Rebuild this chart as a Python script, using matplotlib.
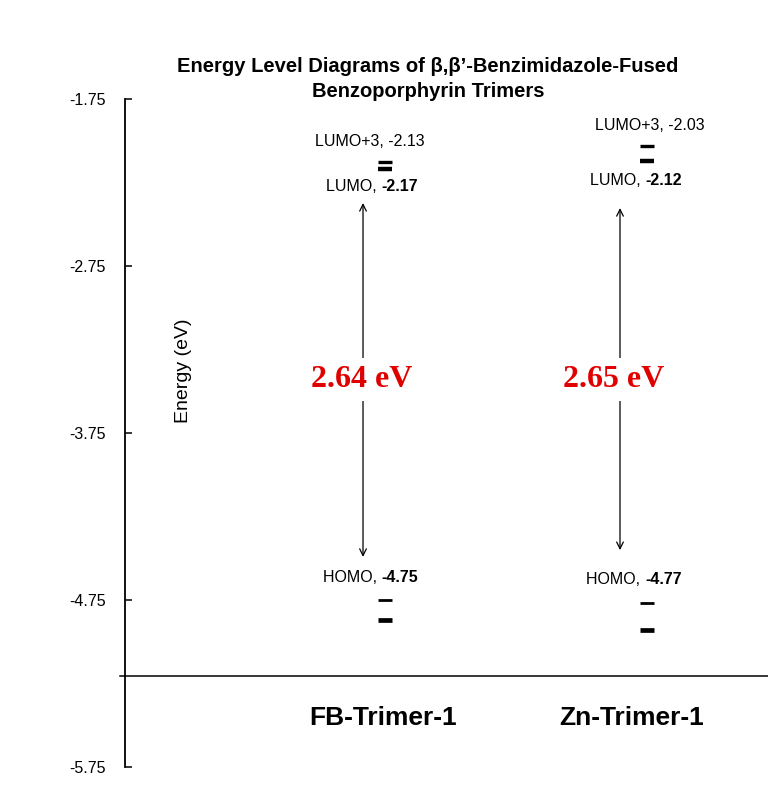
import matplotlib.pyplot as plt

plt.rcParams['font.family'] = ['Liberation Sans', 'DejaVu Sans']

# data
trimers = ['FB-Trimer-1', 'Zn-Trimer-1']
lumo3 = [-2.13, -2.03]
lumo = [-2.17, -2.12]
homo = [-4.75, -4.77]
homo1 = [-4.87, -4.93]   # unlabelled lower level
gaps = ['2.64 eV', '2.65 eV']

xs = [1, 2]

fig = plt.figure(figsize=(7.68, 7.89), dpi=100)
ax = fig.add_axes([0.1628, 0.0279, 0.8372, 0.8466])
ax.set_xlim(0.0075, 2.462)
ax.set_ylim(-5.75, -1.75)

# energy level bars
half = 0.027
for i, x in enumerate(xs):
    ax.hlines(lumo3[i], x - half, x + half, color='black', lw=2.4)
    ax.hlines(lumo[i], x - half, x + half, color='black', lw=3.2)
    ax.hlines(homo[i], x - half, x + half, color='black', lw=2.0)
    ax.hlines(homo1[i], x - half, x + half, color='black', lw=3.4)

# level labels
lab_x = [0.985, 1.992]
top_x = [0.943, 2.011]
top_y = [-2.007, -1.906]
lumo_y = [-2.271, -2.235]
homo_y = [-4.618, -4.630]
fs = 11.5
for i in range(2):
    ax.text(top_x[i], top_y[i], f'LUMO+3, {lumo3[i]:.2f}', ha='center', va='center', fontsize=fs)
    ax.text(lab_x[i], lumo_y[i], 'LUMO, ', ha='right', va='center', fontsize=fs)
    ax.text(lab_x[i], lumo_y[i], f'{lumo[i]:.2f}', ha='left', va='center', fontsize=fs,
            fontweight='bold')
    ax.text(lab_x[i], homo_y[i], 'HOMO, ', ha='right', va='center', fontsize=fs)
    ax.text(lab_x[i], homo_y[i], f'{homo[i]:.2f}', ha='left', va='center', fontsize=fs,
            fontweight='bold')

# gap arrows
arr_x = [0.916, 1.897]
arr_top = [-2.373, -2.403]
arr_bot = [-4.492, -4.451]
txt_x = [0.912, 1.874]
for i in range(2):
    ax.annotate('', xy=(arr_x[i], arr_top[i]), xytext=(arr_x[i], arr_bot[i]),
                arrowprops=dict(arrowstyle='<->', lw=0.9, color='black', mutation_scale=12,
                                shrinkA=0, shrinkB=0))
    ax.text(txt_x[i], -3.43, gaps[i], ha='center', va='center', fontsize=23,
            fontweight='bold', color='#e00000', family='Liberation Serif',
            bbox=dict(facecolor='white', edgecolor='none', pad=5))

# horizontal baseline
ax.plot([-0.012, 2.462], [-5.205, -5.205], color='black', lw=1.1, clip_on=False)

# category labels
cat_x = [0.992, 1.943]
for i in range(2):
    ax.text(cat_x[i], -5.457, trimers[i], ha='center', va='center', fontsize=19,
            fontweight='bold')

ax.text(0.229, -3.38, 'Energy (eV)', rotation=90, ha='center', va='center', fontsize=14)

ax.set_yticks([-1.75, -2.75, -3.75, -4.75, -5.75])
ax.set_yticklabels(['-1.75', '-2.75', '-3.75', '-4.75', '-5.75'])
ax.tick_params(axis='y', direction='in', length=5, width=1.1, labelsize=11.5, pad=14)
ax.set_xticks([])
for s in ['top', 'right', 'bottom']:
    ax.spines[s].set_visible(False)
ax.spines['left'].set_linewidth(1.3)

fig.text(0.557, 0.9, 'Energy Level Diagrams of β,β’-Benzimidazole-Fused\nBenzoporphyrin Trimers',
         ha='center', va='center', fontsize=14.5, fontweight='bold', linespacing=1.35)

fig.savefig('out.png', dpi=100)
